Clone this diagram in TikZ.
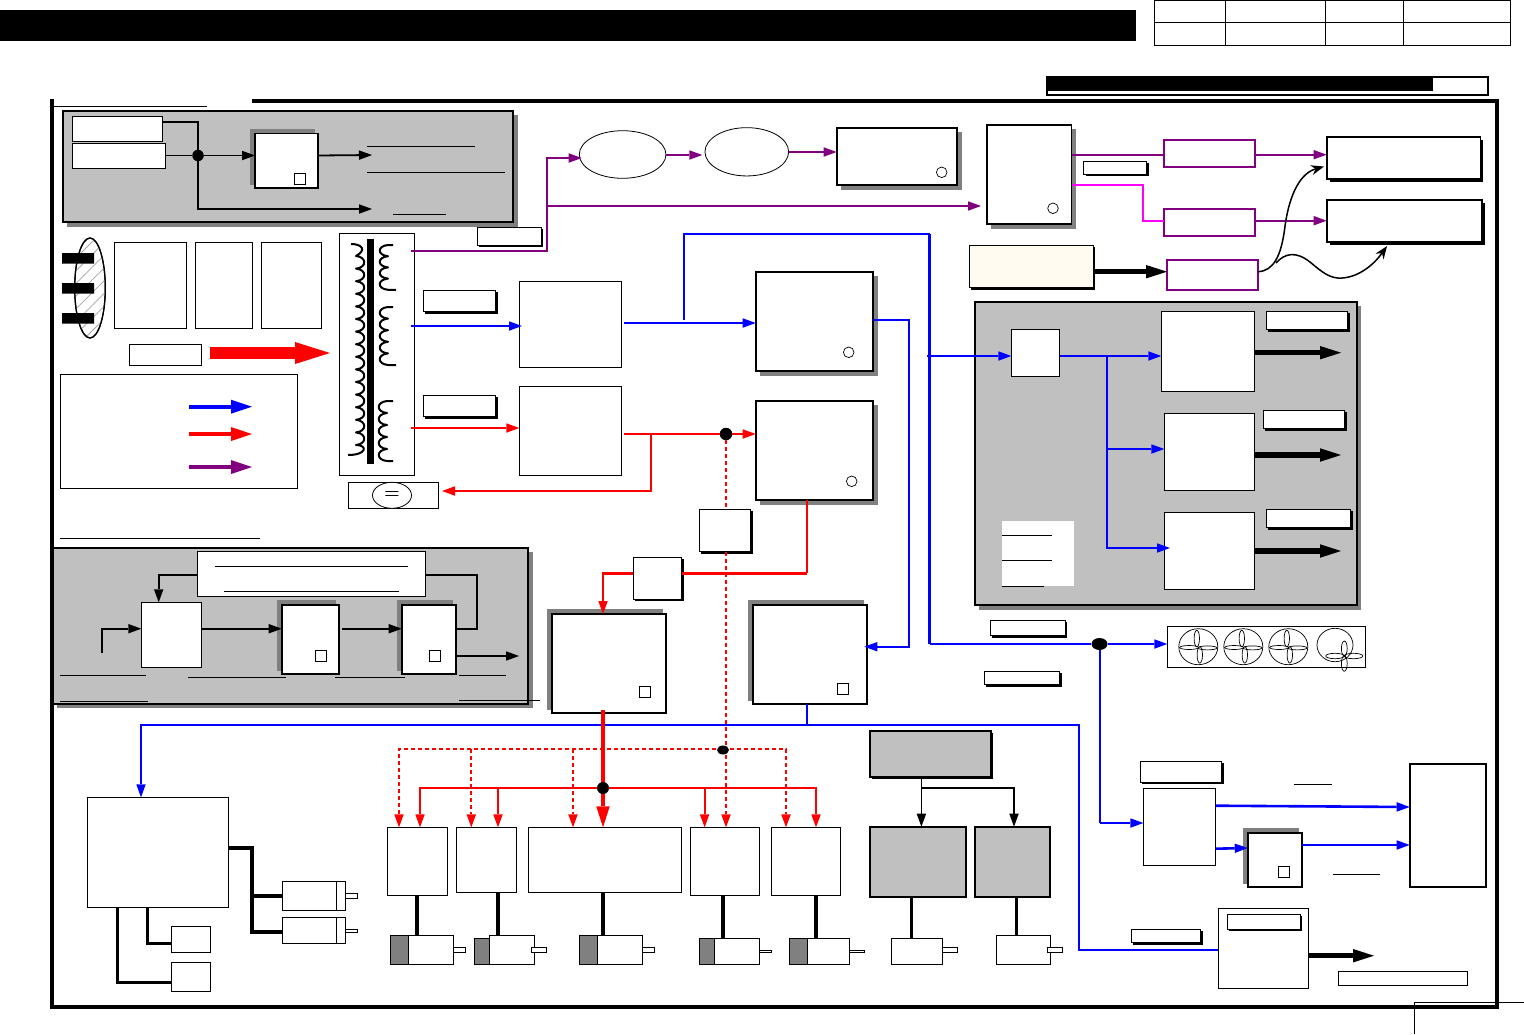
\documentclass[tikz,border=0pt]{standalone}
\usetikzlibrary{arrows.meta,patterns.meta,shapes.geometric}
\definecolor{panelgray}{HTML}{C0C0C0}
\definecolor{shadegray}{HTML}{808080}
\definecolor{pur}{HTML}{800080}
\definecolor{mag}{HTML}{FF00FF}
\definecolor{cream}{HTML}{FFFBF0}
\tikzset{
  boxbase/.style={rectangle,draw=black,fill=white,inner sep=0pt,outer sep=0pt,line width=1pt},
  heavy/.style={line width=1.8pt},
  panel/.style={fill=panelgray,line width=2.2pt},
  pbox/.style={draw=pur,line width=1.8pt},
  tipS/.style={-{Triangle[length=13pt,width=9.5pt,line width=0pt]}},
  tipL/.style={-{Triangle[length=21pt,width=13.5pt,line width=0pt]}},
  wk/.style={draw=black,line width=1.8pt,line join=miter},
  wb/.style={draw=blue,line width=2pt},
  wbb/.style={draw=blue,line width=2.6pt},
  wr/.style={draw=red,line width=2pt},
  wp/.style={draw=pur,line width=2pt},
  wm/.style={draw=mag,line width=2pt},
  dsh/.style={draw=red,line width=2pt,dash pattern=on 4pt off 3pt},
  cable/.style={draw=black,line width=3.2pt},
  fat/.style={draw=black,line width=5.5pt,tipL},
  thinl/.style={draw=black,line width=0.8pt},
  joint/.style={circle,fill=black,inner sep=0pt,outer sep=0pt,minimum size=12.5pt},
  oval/.style={ellipse,draw=black,fill=white,inner sep=0pt,outer sep=0pt,line width=0.8pt},
  coilw/.style={draw=black,line width=2pt,line join=round},
}
\newcommand{\bx}[6][]{%
  \pgfmathsetmacro\bw{#5-(#3)}\pgfmathsetmacro\bh{#6-(#4)}%
  \pgfmathsetmacro\bcx{(#3+#5)/2}\pgfmathsetmacro\bcy{(#4+#6)/2}%
  \node[boxbase,minimum width=\bw pt,minimum height=\bh pt,#1] (#2) at (\bcx,\bcy) {};}
\newcommand{\shd}[5]{\fill[#1] (#2,#3) rectangle (#4,#5);}
\newcommand{\lbx}[5]{% label box with black drop shadow
  \pgfmathsetmacro\sa{#2+2}\pgfmathsetmacro\sb{#3+2}\pgfmathsetmacro\sc{#4+2}\pgfmathsetmacro\sd{#5+2}%
  \fill[black] (\sa,\sb) rectangle (\sc,\sd);%
  \bx{#1}{#2}{#3}{#4}{#5}}
\newcommand{\sq}[2]{\draw[fill=white,line width=0.9pt] (#1,#2) rectangle ++(11.4,11.4);}
\newcommand{\rnd}[2]{\draw[fill=white,line width=0.7pt] (#1,#2) circle (5.3pt);}
\newcommand{\fanb}[2]{%
  \begin{scope}[shift={(#1,#2)},line width=0.7pt]
  \draw (0,0) ellipse [x radius=19.5pt,y radius=18pt];
  \draw (-1.5,-8.2) ellipse [x radius=2.7pt,y radius=8.2pt];
  \draw (1.5,8.2) ellipse [x radius=2.7pt,y radius=8.2pt];
  \draw (-9.2,0.8) ellipse [x radius=9.4pt,y radius=2pt];
  \draw (9.2,1.2) ellipse [x radius=9.4pt,y radius=2pt];
  \end{scope}}
\begin{document}
\begin{tikzpicture}[x=1pt,y=-1pt]
\useasboundingbox (0,0) rectangle (1524,1034);
\fill[white] (0,0) rectangle (1524,1034);

% --- title block
\fill[black] (0,10) rectangle (1136,41);
\draw[line width=1pt] (1154,0) rectangle (1510.5,45.3);
\draw[line width=1pt] (1154,22.3) -- (1510.5,22.3);
\draw[line width=1pt] (1225,0) -- (1225,45.3) (1325,0) -- (1325,45.3) (1403.3,0) -- (1403.3,45.3);
\bx[line width=1.8pt]{rev}{1046.7}{76.7}{1487.7}{95.3}
\fill[black] (1047,77) rectangle (1433,91);

% --- outer frame
\draw[line width=3.4pt,line cap=butt] (252,101) -- (1497,101) -- (1497,1007) -- (52,1007) -- (52,99);
\draw[thinl] (54,106) -- (207,106);
\draw[thinl] (60,538.3) -- (260,538.3);

% --- panel 1 (top left)
\shd{shadegray}{67}{115}{518}{226.7}
\bx[panel]{pa}{63}{111}{513}{222}
\bx{paA}{72.3}{116}{162.3}{141.7}
\bx{paB}{72.3}{143.3}{165.3}{168.7}
\shd{shadegray}{250}{129}{315}{185}
\bx[heavy]{paC}{255}{133.5}{318}{188.3}
\sq{294.3}{173.3}
\coordinate (paO1) at (372,155);
\coordinate (paO2) at (372,209);
\node[joint,minimum size=11.5pt] (paJ) at (198,155.5) {};
\draw[wk] (paA.east |- 0,122) -| (paJ);
\draw[wk] (paB.east |- paJ) -- (paJ);
\draw[wk,tipS] (paJ) -- (paC.west |- paJ);
\draw[wk,tipS] (paC.east |- paJ) -- (paO1);
\draw[wk,tipS] (paJ) |- (paO2);
\draw[thinl] (367,146.5) -- (474.5,146.5) (367,172.3) -- (505,172.3) (393,214.3) -- (446,214.3);

% --- hatched plug
\draw[line width=1.2pt,fill=white] (90,288) ellipse [x radius=15.3pt,y radius=50pt];
\draw[line width=1.2pt,pattern={Lines[angle=45,distance=9pt,line width=0.8pt]},pattern color=black!35] (90,288) ellipse [x radius=15.3pt,y radius=50pt];
\fill[black] (62,253) rectangle (94,263.5) (62,283) rectangle (94,293.5) (62,313) rectangle (94,323.5);
\bx{w1}{114.3}{242.3}{186.7}{328.7}
\bx{w2}{195.3}{242.3}{252.7}{328.7}
\bx{w3}{261.3}{242.3}{321.7}{328.7}
\bx{hv}{129.3}{344.3}{201.7}{365.7}
\coordinate (hvA) at (210,353);
\coordinate (hvB) at (330,353);
\draw[draw=red,line width=12pt,-{Triangle[length=35pt,width=22pt,line width=0pt]}] (hvA) -- (hvB);

% --- legend
\bx{leg}{60.3}{374.3}{297.7}{488.3}
\coordinate (lgA) at (189,406.7); \coordinate (lgAe) at (252,406.7);
\coordinate (lgB) at (189,434);   \coordinate (lgBe) at (252,434);
\coordinate (lgC) at (189,467);   \coordinate (lgCe) at (252,467);
\draw[draw=blue,line width=4pt,-{Triangle[length=21pt,width=14pt,line width=0pt]}] (lgA) -- (lgAe);
\draw[draw=red,line width=4pt,-{Triangle[length=21pt,width=14pt,line width=0pt]}] (lgB) -- (lgBe);
\draw[draw=pur,line width=4pt,-{Triangle[length=21pt,width=14pt,line width=0pt]}] (lgC) -- (lgCe);

% --- transformer
\bx{tr}{339.3}{233.3}{414.7}{475.3}
\fill[black] (367,239) rectangle (374,464);
\draw[coilw] (351,244) .. controls (362,244) and (367,250) .. (356,256)
  \foreach \k in {1,...,15}{ .. controls +(11,1) and +(11,-1) .. ++(0,12.6)}
  .. controls (368,445) and (367,455) .. (348,455);
\draw[coilw] (393,245) -- (388,245)
  \foreach \k in {1,...,4}{ .. controls +(-11,1) and +(-11,-1) .. ++(0,11.2)} -- (396,290);
\draw[coilw] (393,307) -- (388,307)
  \foreach \k in {1,...,5}{ .. controls +(-11,1) and +(-11,-1) .. ++(0,11.6)} -- (396,365);
\draw[coilw] (393,401) -- (387,401)
  \foreach \k in {1,...,5}{ .. controls +(-11,1) and +(-11,-1) .. ++(0,12)} -- (393,461);
\bx[minimum width=90pt]{eq}{348.3}{482.3}{438.3}{508.3}
\node[oval,minimum width=39pt,minimum height=26pt,font=\fontsize{18}{18}\selectfont\bfseries] (eqc) at (392,495.3) {=};

% --- supplies
\bx{sA}{519.3}{281.3}{621.7}{367.3}
\bx{sB}{519.3}{386.3}{621.7}{475.3}
\lbx{lA}{423.3}{290.3}{495.7}{311.7}
\lbx{lB}{423.3}{395.3}{495.7}{416.7}
\lbx{lC}{477.3}{227.3}{541}{245}
\coordinate (lA2) at (411,326);
\coordinate (lB2) at (411,428);
\draw[wb,tipS] (lA2) -- (522,326);
\draw[wr,tipS] (lB2) -- (sB.west |- lB2);

% --- ovals and top boxes
\node[oval,minimum width=86.7pt,minimum height=47.6pt] (eA) at (622.6,154.5) {};
\node[oval,minimum width=83.7pt,minimum height=48.3pt] (eB) at (746.8,151.8) {};
\shd{shadegray}{841}{132}{962}{190}
\bx[heavy]{tE}{836.7}{127.7}{957.3}{185.3}
\rnd{941.7}{172.3}
\shd{shadegray}{991}{129}{1076}{228.7}
\bx[heavy]{tF}{986.7}{124.7}{1071.5}{224.3}
\rnd{1053}{208.3}
\lbx{lD}{1083.6}{161.3}{1146.7}{174.3}
\bx[pbox]{pA}{1163.7}{139.7}{1255}{167.3}
\bx[pbox]{pB}{1163.7}{208.7}{1255}{236}
\bx[pbox]{pC}{1167}{259.7}{1258}{290.3}
\shd{black}{1329.5}{139.5}{1483}{182}
\bx[heavy]{rA}{1326.6}{136.7}{1480.5}{179.3}
\shd{black}{1329.5}{203}{1484.5}{245}
\bx[heavy]{rB}{1326.6}{200}{1482}{242.3}
\shd{black}{971.3}{247.3}{1095}{289.7}
\bx[fill=cream]{cr}{969.3}{245.3}{1093}{287.7}

% --- purple wiring
\coordinate (puS) at (411,251);
\coordinate (puJ) at (547,206);
\coordinate (puT) at (981,206);
\draw[wp,tipS] (puS) -- (547,251) -- (547,158) -- (581.7,158);
\draw[wp,tipS] (puJ) -- (puT);
\draw[wp,tipS] (eA.east |- 0,155) -- (702.3,155);
\draw[wp,tipS] (eB.east |- 0,152) -- (tE.west |- 0,152);
\draw[wp] (tF.east |- 0,154.7) -- (pA.west |- 0,154.7);
\draw[wp,tipS] (pA.east |- 0,154.7) -- (rA.west |- 0,154.7);
\draw[wm] (tF.east |- 0,185) -- (1143,185) -- (1143,220.7) -- (pB.west |- 0,220.7);
\draw[wp,tipS] (pB.east |- 0,220.7) -- (rA.west |- 0,220.7);
\draw[fat] (cr.east |- 0,271.7) -- (pC.west |- 0,271.7);
\coordinate (cvA) at (1324,166.5);
\coordinate (cvB) at (1387,246);
\coordinate (cvS) at (1258,271.7);
\coordinate (cvM) at (1276,263);
\draw[black,line width=1.5pt,-{Stealth[length=13pt,width=10pt,line width=0pt]}] (cvS) .. controls (1274,271) and (1281,255) .. (1284.5,230) .. controls (1288,200) and (1298,174) .. (cvA);
\draw[black,line width=1.5pt,-{Stealth[length=13pt,width=10pt,line width=0pt]}] (cvM) .. controls (1285,253) and (1296,251) .. (1310,262) .. controls (1322,272) and (1330,279) .. (1342,278) .. controls (1360,277) and (1375,263) .. (cvB);

% --- DC section boxes
\shd{shadegray}{760}{276}{878}{376}
\bx[heavy]{bF}{755.7}{271.7}{873.3}{371.3}
\rnd{848.7}{352.3}
\shd{shadegray}{760}{405}{878}{505}
\bx[heavy]{bG}{755.7}{400.7}{873.3}{500.3}
\rnd{851.7}{481.3}
\lbx{bA}{699.3}{509.3}{750.7}{551.7}
\lbx{bB}{633.3}{557.3}{681.7}{599.3}
\shd{shadegray}{547}{609.3}{662.7}{710}
\bx[heavy]{bC}{551.7}{614}{666.3}{713}
\sq{639.3}{686.3}
\shd{shadegray}{748}{600.3}{864}{700.7}
\bx[heavy]{bD}{752.7}{604.7}{867.3}{704}
\sq{837.3}{683.3}

% --- panel 3 (right)
\shd{shadegray}{979}{306}{1361}{609.5}
\bx[panel]{pc}{974.7}{301.7}{1356.7}{605}
\bx{cD}{1011.3}{329.3}{1059.7}{376.3}
\bx{cA}{1161.3}{311.3}{1254.7}{391.7}
\bx{cB}{1164.3}{413.3}{1254.7}{490.7}
\bx{cC}{1164.3}{512.3}{1254.7}{589.7}
\lbx{cLa}{1266.3}{311.3}{1347.7}{329.7}
\lbx{cLb}{1263.3}{410.3}{1344.7}{428.7}
\lbx{cLc}{1266.3}{509.3}{1350.7}{527.7}
\fill[white] (1002,521) rectangle (1074,586);
\draw[thinl] (1002,535.3) -- (1052,535.3) (1002,560.7) -- (1052,560.7) (1002,586.3) -- (1044,586.3);
\coordinate (cOa) at (1341,352.7);
\coordinate (cOb) at (1341,455);
\coordinate (cOc) at (1341,551);
\draw[fat] (cA.east |- cOa) -- (cOa);
\draw[fat] (cB.east |- cOb) -- (cOb);
\draw[fat] (cC.east |- cOc) -- (cOc);
\coordinate (cJ) at (1107,356);
\draw[wb,tipS] (cD.east |- cJ) -- (cA.west |- cJ);
\draw[wb,tipS] (cJ) |- (cB.west |- 0,449);
\coordinate (cTip) at (1170,548);
\draw[wb,tipS] (cJ) |- (cTip);

% --- blue wiring
\coordinate (bS) at (624,323);
\coordinate (bUp) at (684,320);
\coordinate (bRail) at (929.5,234);
\coordinate (bFan) at (929.5,644);
\node[ellipse,fill=black,inner sep=0pt,minimum width=16pt,minimum height=12pt] (bDot) at (1099.5,644) {};
\draw[wb,tipS] (bS) -- (bF.west |- bS);
\draw[wb] (bUp) |- (bRail);
\draw[wbb] (bRail) -- (bFan);
\coordinate (bInto) at (927,356);
\draw[wb,tipS] (bInto) -- (cD.west |- bInto);
\bx{fans}{1167.3}{626.3}{1365.7}{667.3}
\draw[wb] (bFan) -- (bDot);
\draw[wb,tipS] (bDot) -- (fans.west |- bDot);
\draw[wb,tipS] (bF.east |- 0,320) -- (909,320) -- (909,646.7) -- (864.3,646.7);
\fanb{1198.3}{646.7}
\fanb{1243.3}{646.7}
\fanb{1288.3}{646.7}
\begin{scope}[shift={(1335,645)},line width=0.7pt]
  \draw (0,0) ellipse [x radius=18pt,y radius=16.7pt];
  \draw (9.3,3.5) ellipse [x radius=2.9pt,y radius=7.5pt];
  \draw (9.3,18.5) ellipse [x radius=2.9pt,y radius=7.8pt];
  \draw (0,11) ellipse [x radius=9.3pt,y radius=2.7pt];
  \draw (18.5,11) ellipse [x radius=9.3pt,y radius=2.7pt];
\end{scope}
\lbx{fL1}{990}{620}{1065}{635.5}
\lbx{fL2}{984}{671}{1059.5}{684.5}

% --- red wiring
\node[joint] (rJ) at (726,434) {};
\coordinate (rS) at (624,434);
\coordinate (rE) at (651,434);
\draw[wr] (rS) -- (rJ);
\draw[wr,tipS] (rJ) -- (bG.west |- rJ);
\draw[wr,tipS] (rE) |- (442,491);
\coordinate (rU) at (807,573.3);
\draw[wr] (807,0 |- bG.south) -- (rU);
\draw[draw=red,line width=2.6pt] (rU) -- (bB.east |- rU);
\draw[draw=red,line width=2.6pt] (bB.west |- rU) -| (603,590);
\draw[wr,tipS] (603,590) -- (603,0 |- bC.north);

% --- lower row
\bx{r1}{387.3}{827.3}{447.7}{895.7}
\bx{r2}{456.3}{827.3}{516.7}{892.7}
\bx{r3}{528.2}{827.3}{681.8}{892.7}
\bx{r4}{690.4}{827.3}{759.6}{895.7}
\bx{r5}{771.4}{827.3}{840.7}{895.7}
\coordinate (rTop) at (603,710);
% blue trunk
\coordinate (bT) at (807,725);
\coordinate (bBend) at (1079,725);
\bx{bL}{87.3}{797.3}{228.3}{907.3}
\bx{bSS}{1218.3}{908.3}{1308.7}{988.3}
\draw[wb] (807,0 |- bD.south) -- (bT);
\draw[wb,tipS] (bT) -| (141,0 |- bL.north);
\draw[wb] (bT) -- (bBend) -- (1079,950) -- (bSS.west |- 0,950);
% dashed signals
\draw[dsh] (rJ) -- (726,0 |- bA.north);
\draw[dsh,tipS] (726,0 |- bA.south) -- (726,0 |- r4.north);
\coordinate (dJc) at (723,749);
\draw[dsh,tipS] (dJc) -| (399,0 |- r1.north);
\draw[dsh,tipS] (471.3,749) -- (471.3,0 |- r2.north);
\draw[dsh,tipS] (573,749) -- (573,0 |- r3.north);
\draw[dsh,tipS] (dJc) -| (786,0 |- r5.north);
% solid red bus
\coordinate (rKc) at (603,788);
\draw[wr,tipS] (rKc) -| (420,0 |- r1.north);
\draw[wr,tipS] (498,788) -- (498,0 |- r2.north);
\draw[wr,tipS] (rKc) -| (816,0 |- r5.north);
\draw[wr,tipS] (704.6,788) -- (704.6,0 |- r4.north);
\draw[draw=red,line width=4pt,tipL] (rTop) -- (603,0 |- r3.north);
\node[joint,minimum size=12pt] (rK) at (rKc) {};
\node[ellipse,fill=black,inner sep=0pt,minimum width=12pt,minimum height=9pt] (dJ) at (723,750) {};

% --- motors
\newcommand{\motor}[9]{%
  \bx[fill=shadegray]{#1g}{#2}{#7}{#3}{964.5}
  \bx{#1b}{#3}{#8}{#4}{964.5}
  \bx{#1s}{#5}{#9}{#6}{952.7}}
\motor{mA}{390.3}{408.3}{453.3}{453.3}{465.7}{935.3}{935.3}{947.3}
\motor{mB}{474.3}{489.3}{534.3}{531.3}{546.3}{938.3}{935.3}{947.3}
\motor{mC}{579.3}{597.5}{642.5}{642.5}{654.6}{935.3}{935.3}{947.3}
\motor{mD}{699.3}{714.6}{759.3}{759.3}{771.8}{938.3}{938.3}{950.3}
\motor{mE}{789.3}{807.5}{849.6}{849.6}{864.6}{938.3}{938.3}{950.3}
\bx{mFb}{891.4}{938.3}{942.5}{964.5}
\bx{mFs}{942.5}{947.3}{957.5}{952.7}
\bx{mGb}{996.4}{935.3}{1050.7}{964.5}
\bx{mGs}{1047.5}{947.3}{1062.9}{952.7}
\draw[cable] (417,0 |- r1.south) -- (417,0 |- mAb.north);
\draw[cable] (498,0 |- r2.south) -- (498,0 |- mBb.north);
\draw[cable] (603,0 |- r3.south) -- (603,0 |- mCb.north);
\draw[cable] (723,0 |- r4.south) -- (723,0 |- mDb.north);
\draw[cable] (816,0 |- r5.south) -- (816,0 |- mEb.north);

% --- gray group
\shd{black}{872}{733}{993.4}{778.7}
\bx[fill=panelgray,line width=2pt]{gA}{870}{730.7}{991.4}{776.7}
\bx[fill=panelgray,line width=2pt]{gB}{870}{826.7}{966.4}{896.7}
\bx[fill=panelgray,line width=2pt]{gC}{975}{826.7}{1050.4}{896.7}
\draw[wk,tipS] (921.4,0 |- gA.south) -- (921.4,0 |- gB.north);
\draw[wk,tipS] (921.4,788) -| (1014,0 |- gC.north);
\draw[cable] (911.8,0 |- gB.south) -- (911.8,0 |- mFb.north);
\draw[cable] (1016.8,0 |- gC.south) -- (1016.8,0 |- mGb.north);

% --- left drive
\bx{lmA}{282.3}{881.3}{336.3}{910.3}
\bx{lmAe}{336.3}{881.3}{345.3}{910.3}
\bx{lmAs}{345.3}{893.3}{357.7}{898.3}
\bx{lmB}{282.3}{917.3}{336.3}{943.3}
\bx{lmBe}{336.3}{917.3}{345.3}{943.3}
\bx{lmBs}{345.3}{929.6}{357.7}{932}
\bx{lsA}{171.3}{926.3}{210.7}{952.7}
\bx{lsB}{171.3}{962.3}{210.7}{991.3}
\coordinate (lJ) at (252,896);
\draw[cable,line join=miter] (bL.east |- 0,848) -| (252,932) -- (lmB.west |- 0,932);
\draw[cable] (lJ) -- (lmA.west |- lJ);
\draw[cable,line join=miter] (147.3,0 |- bL.south) |- (lsA.west |- 0,943.7);
\draw[cable,line join=miter] (117.7,0 |- bL.south) |- (lsB.west |- 0,982.7);

% --- panel 2
\shd{shadegray}{57}{552}{533}{708}
\bx[panel]{pb}{53}{548}{528.3}{704}
\bx{bWide}{197.3}{551.3}{425.7}{596.7}
\draw[thinl] (215.3,566.3) -- (408,566.3) (224,591.3) -- (399.3,591.3);
\bx{dA}{141.3}{602.3}{201.7}{667.3}
\shd{shadegray}{277}{600}{336}{671}
\bx[heavy]{dB}{281.7}{604.7}{339}{674}
\sq{315.3}{650.3}
\shd{shadegray}{397}{600}{453}{671}
\bx[heavy]{dC}{401.7}{604.7}{456.3}{674}
\sq{429.3}{650.3}
\coordinate (dIn) at (101.7,653.3);
\coordinate (dOut) at (519,656);
\coordinate (dFb) at (342,628.7);
\draw[wk,tipS] (dIn) |- (dA.west |- 0,628.7);
\draw[wk,tipS] (dA.east |- 0,628.7) -- (dB.west |- 0,628.7);
\draw[wk,tipS] (dFb) -- (dC.west |- dFb);
\draw[wk] (bWide.east |- 0,574.7) -- (477,574.7) |- (dC.east |- dFb);
\draw[wk,tipS] (bWide.west |- 0,574.7) -| (158.7,0 |- dA.north);
\draw[wk,tipS] (dC.east |- dOut) -- (dOut);
\draw[thinl] (60,675.3) -- (146,675.3) (60,701.7) -- (148,701.7) (188,677.3) -- (286,677.3) (335,677.3) -- (405,677.3) (459,675.3) -- (506,675.3) (459,700.3) -- (540,700.3);

% --- lower right
\lbx{eL}{1140.3}{761.3}{1221.7}{782.3}
\bx{eA2}{1143.3}{788.3}{1215.7}{865.5}
\shd{shadegray}{1243}{828}{1299}{884}
\bx[heavy]{eB2}{1247.7}{832.7}{1302.3}{887}
\sq{1278.3}{866.3}
\bx[heavy]{eC}{1409.7}{763.7}{1485.7}{887}
\draw[wb] (bDot) -- (1099.5,823);
\draw[wbb,tipS] (1099.5,823) -- (eA2.west |- 0,823);
\draw[wbb,tipS] (eA2.east |- 0,805.7) -- (eC.west |- 0,807);
\draw[wbb,tipS] (eA2.east |- 0,848.7) -- (eB2.west |- 0,848);
\draw[wbb,tipS] (eB2.east |- 0,845) -- (eC.west |- 0,845);
\draw[thinl] (1294,784) -- (1331.7,784) (1333,874.3) -- (1380,874.3);
\lbx{sL}{1227.3}{914.3}{1300}{929.3}
\lbx{sL2}{1131.3}{929.3}{1200.7}{942.7}
\coordinate (sOut) at (1374,955.7);
\draw[fat] (bSS.east |- sOut) -- (sOut);
\bx{sN}{1338.3}{971.3}{1467.7}{985.7}
\draw[thinl] (1414,1034) -- (1414,1002) -- (1524,1002);
\end{tikzpicture}
\end{document}
